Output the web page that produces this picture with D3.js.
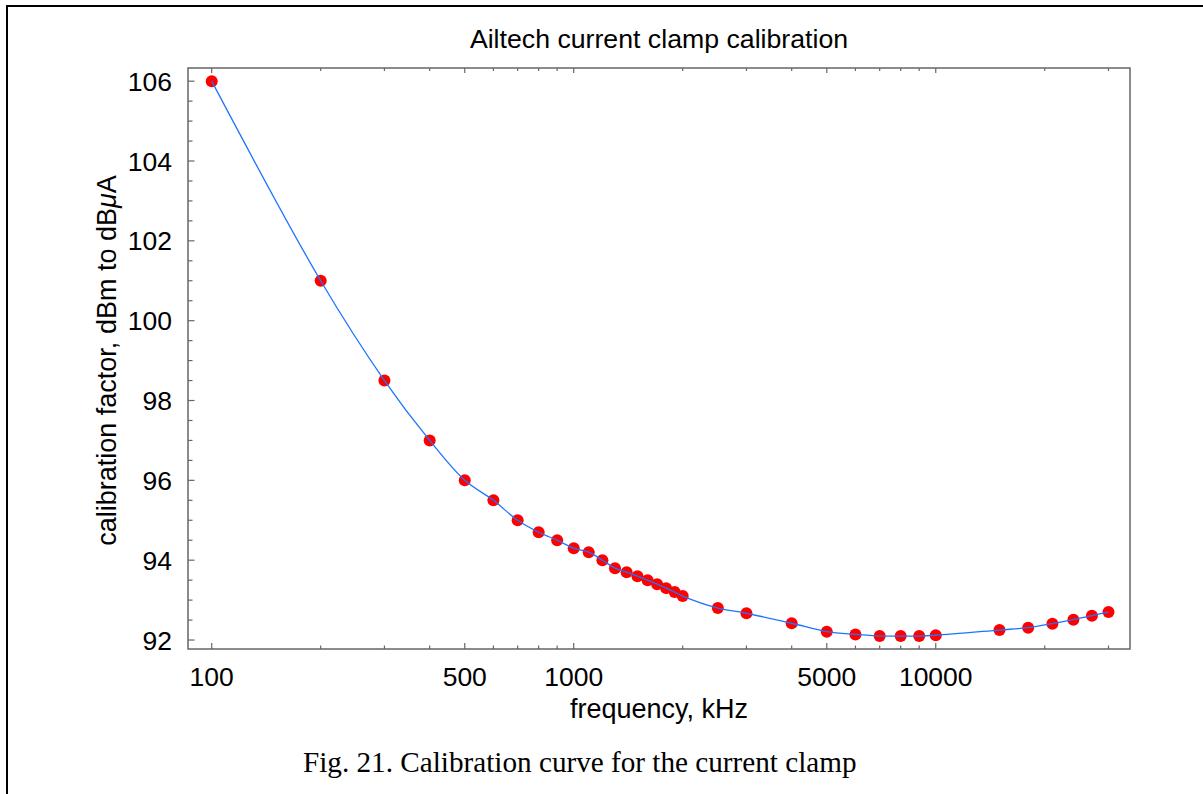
<!DOCTYPE html>
<html lang="en">

<head>
    <meta charset="UTF-8">
    <title>Ailtech current clamp calibration</title>
    <script src="https://d3js.org/d3.v7.min.js"></script>
    <style>
        body,
        html {
            margin: 0px;
            background: #fff;
            font-family: 'Liberation Sans', Arial, sans-serif;
        }
    </style>
</head>

<body>
    <div id="chart"></div>
    <script>
        // frequency in kHz and calibration factor in dB
        const freq = [100, 200, 300, 400, 500, 600, 700, 800, 900, 1000, 1100, 1200, 1300, 1400, 1500, 1600,
            1700, 1800, 1900, 2000, 2500, 3000, 4000, 5000, 6000, 7000, 8000, 9000, 10000,
            15000, 18000, 21000, 24000, 27000, 30000]
        const factor = [106, 101, 98.5, 97, 96, 95.5, 95, 94.7, 94.5, 94.3, 94.2, 94.0, 93.8, 93.7, 93.6, 93.5,
            93.4, 93.3, 93.2, 93.1, 92.8, 92.67, 92.42, 92.21, 92.14, 92.1, 92.1, 92.1, 92.12,
            92.25, 92.31, 92.41, 92.51, 92.61, 92.7]

        const xLabelTicks = [100, 500, 1000, 5000, 10000]
        const xMinorTicks = [200, 300, 400, 600, 700, 800, 900, 2000, 3000, 4000, 6000, 7000, 8000, 9000, 20000, 30000]
        const yLabelTicks = [92, 94, 96, 98, 100, 102, 104, 106]
        const yMinorTicks = [92.5, 93, 93.5, 94.5, 95, 95.5, 96.5, 97, 97.5, 98.5, 99, 99.5, 100.5, 101, 101.5,
            102.5, 103, 103.5, 104.5, 105, 105.5]

        const width = 1203, height = 794
        const plot = { left: 188, right: 1130, top: 68, bottom: 649 }

        const svg = d3.select("#chart").append("svg")
            .attr("width", width)
            .attr("height", height)

        // outer page frame
        svg.append("rect")
            .attr("x", 7).attr("y", 6)
            .attr("width", 1205).attr("height", 800)
            .style("fill", "none")
            .style("stroke", "#000")
            .style("stroke-width", 2)

        const x = d3.scaleLog().domain([86, 34400]).range([plot.left, plot.right])
        const y = d3.scaleLinear().domain([91.775, 106.33]).range([plot.bottom, plot.top])

        const axisColor = "#666"
        const g = svg.append("g")

        // ticks, pointing into the frame
        const tick = (vals, len, side) => {
            g.selectAll(null).data(vals).enter().append("line")
                .attr("x1", d => side === "left" ? plot.left : x(d))
                .attr("x2", d => side === "left" ? plot.left + len : x(d))
                .attr("y1", d => side === "left" ? y(d) : (side === "bottom" ? plot.bottom : plot.top))
                .attr("y2", d => side === "left" ? y(d) : (side === "bottom" ? plot.bottom - len : plot.top + len))
                .style("stroke", axisColor)
                .style("stroke-width", 1.2)
        }
        tick(xLabelTicks, 6, "bottom")
        tick(xMinorTicks, 3.5, "bottom")
        tick(xLabelTicks, 5, "top")
        tick(xMinorTicks, 3, "top")
        tick(yLabelTicks, 6.5, "left")
        tick(yMinorTicks, 4.5, "left")

        // frame
        g.append("rect")
            .attr("x", plot.left).attr("y", plot.top)
            .attr("width", plot.right - plot.left)
            .attr("height", plot.bottom - plot.top)
            .style("fill", "none")
            .style("stroke", axisColor)
            .style("stroke-width", 1.5)

        // tick labels
        g.selectAll(null).data(xLabelTicks).enter().append("text")
            .attr("x", d => x(d))
            .attr("y", 686)
            .attr("text-anchor", "middle")
            .style("font-size", "26.5px")
            .text(d => d)

        g.selectAll(null).data(yLabelTicks).enter().append("text")
            .attr("x", 172)
            .attr("y", d => y(d) + 9.5)
            .attr("text-anchor", "end")
            .style("font-size", "26.5px")
            .text(d => d)

        // titles
        svg.append("text")
            .attr("x", (plot.left + plot.right) / 2)
            .attr("y", 48)
            .attr("text-anchor", "middle")
            .style("font-size", "26.7px")
            .text("Ailtech current clamp calibration")

        svg.append("text")
            .attr("x", (plot.left + plot.right) / 2)
            .attr("y", 718)
            .attr("text-anchor", "middle")
            .style("font-size", "27px")
            .text("frequency, kHz")

        const yl = svg.append("text")
            .attr("transform", `translate(116,${(plot.top + plot.bottom) / 2 + 2}) rotate(-90)`)
            .attr("text-anchor", "middle")
            .style("font-size", "27px")
        yl.append("tspan").text("calibration factor, dBm to dB")
        yl.append("tspan").style("font-style", "italic").text("\u03bc")
        yl.append("tspan").text("A")

        // curve and data points
        const pts = freq.map((f, i) => [f, factor[i]])
        const line = d3.line()
            .x(d => x(d[0]))
            .y(d => y(d[1]))
            .curve(d3.curveCatmullRom.alpha(0.5))

        svg.append("g").selectAll("circle")
            .data(pts)
            .enter()
            .append("circle")
            .attr("cx", d => x(d[0]))
            .attr("cy", d => y(d[1]))
            .attr("r", 6)
            .style("fill", "#ff0000")

        // the line sits over the dots, as in the original
        svg.append("path")
            .datum(pts)
            .attr("d", line)
            .style("fill", "none")
            .style("stroke", "#1f74ff")
            .style("stroke-width", 1.3)

        // caption
        svg.append("text")
            .attr("x", 303)
            .attr("y", 772)
            .style("font-family", "'Liberation Serif', 'Times New Roman', serif")
            .style("font-size", "29.2px")
            .text("Fig. 21. Calibration curve for the current clamp")
    </script>
</body>

</html>
